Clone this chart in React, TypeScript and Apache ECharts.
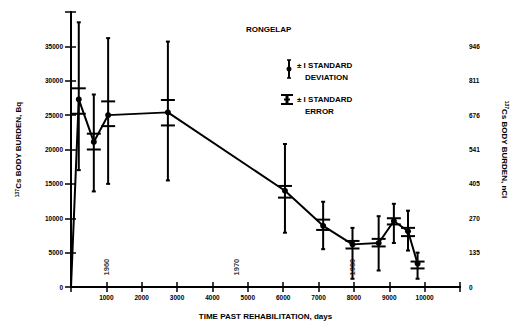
import React, { useEffect, useRef } from "react";
import * as echarts from "echarts";

// Time past rehabilitation (days)
const days = [0, 220, 645, 1050, 2740, 6050, 7130, 7960, 8700, 9130, 9530, 9800];
// Mean 137Cs body burden (Bq)
const meanBq = [0, 27300, 21100, 25000, 25400, 14000, 8900, 6200, 6400, 9600, 8100, 3400];
// ±1 standard deviation
const sdLow = [null, 17000, 13900, 15000, 15500, 7900, 5500, 1200, 2400, 6400, 5300, 1200];
const sdHigh = [null, 38500, 28000, 36200, 35700, 20800, 12400, 8600, 10300, 12100, 11100, 5000];
// ±1 standard error
const seLow = [null, 25200, 20000, 23400, 23500, 13000, 8300, 5600, 5900, 9100, 7400, 2700];
const seHigh = [null, 28900, 22300, 27000, 27200, 14700, 9800, 6700, 7000, 10000, 8600, 3700];

const yearLabels = ["1960", "1970", "1980"];
const yearDays = [1000, 4690, 7950];
const yearY = [2900, 2900, 2900];

const leftTicks = ["0", "5000", "10000", "15000", "20000", "25000", "30000", "35000"];
const rightTicks = ["0", "135", "270", "405", "541", "676", "811", "946"];

const FONT = "Liberation Sans";

export default function App() {
  const ref = useRef<HTMLDivElement>(null);
  useEffect(() => {
    if (!ref.current) return;
    const chart = echarts.init(ref.current, null, { renderer: "svg" });
    const errData = days
      .map((d, i) => [d, sdLow[i], sdHigh[i], seLow[i], seHigh[i]])
      .filter((r) => r[1] !== null);
    const axisLine = { show: true, lineStyle: { color: "#000", width: 2 } };
    const axisTick = { show: true, inside: true, length: 5, lineStyle: { color: "#000", width: 1.5 } };
    const tickLabel = { color: "#000", fontFamily: FONT, fontWeight: "bold" as const, fontSize: 6.5 };
    const nameStyle = {
      color: "#000",
      fontFamily: FONT,
      fontWeight: "bold" as const,
      fontSize: 8,
      rich: { sup: { fontSize: 5, verticalAlign: "top" as const, fontWeight: "bold" as const, fontFamily: FONT, padding: [0, 0, 4, 0] } },
    };
    chart.setOption({
      animation: false,
      backgroundColor: "#fff",
      grid: { left: 71, right: 45, top: 12, bottom: 33 },
      xAxis: [
        {
          type: "value",
          min: 0,
          max: 11000,
          interval: 1000,
          position: "bottom",
          axisLine,
          axisTick,
          splitLine: { show: false },
          axisLabel: {
            ...tickLabel,
            margin: 7,
            formatter: (v: number) => (v === 0 || v === 11000 ? "" : String(v)),
          },
          name: "TIME PAST REHABILITATION, days",
          nameLocation: "middle",
          nameGap: 25,
          nameTextStyle: nameStyle,
        },
        {
          type: "value",
          min: 0,
          max: 11000,
          interval: 1000,
          position: "top",
          axisLine,
          axisTick,
          splitLine: { show: false },
          axisLabel: { show: false },
        },
      ],
      yAxis: [
        {
          type: "value",
          min: 0,
          max: 40000,
          interval: 5000,
          position: "left",
          axisLine,
          axisTick,
          splitLine: { show: false },
          axisLabel: {
            ...tickLabel,
            margin: 8,
            formatter: (v: number) => leftTicks[Math.round(v / 5000)] ?? "",
          },
          name: "{sup|137}Cs BODY BURDEN, Bq",
          nameLocation: "middle",
          nameRotate: 90,
          nameGap: 48,
          nameTextStyle: nameStyle,
        },
        {
          type: "value",
          min: 0,
          max: 40000,
          interval: 5000,
          position: "right",
          axisLine,
          axisTick: { ...axisTick, length: 6 },
          splitLine: { show: false },
          axisLabel: {
            ...tickLabel,
            margin: 9,
            formatter: (v: number) => rightTicks[Math.round(v / 5000)] ?? "",
          },
          name: "{sup|137}Cs BODY BURDEN, nCi",
          nameLocation: "middle",
          nameRotate: -90,
          nameGap: 40,
          nameTextStyle: nameStyle,
        },
      ],
      graphic: [
        { type: "text", left: 246, top: 25, style: { text: "RONGELAP", fill: "#000", font: `bold 8px "${FONT}"` } },
        // SD legend symbol
        { type: "line", shape: { x1: 289, y1: 60, x2: 289, y2: 78 }, style: { stroke: "#000", lineWidth: 2 } },
        { type: "line", shape: { x1: 287, y1: 60, x2: 291, y2: 60 }, style: { stroke: "#000", lineWidth: 1.5 } },
        { type: "line", shape: { x1: 287, y1: 78, x2: 291, y2: 78 }, style: { stroke: "#000", lineWidth: 1.5 } },
        { type: "circle", shape: { cx: 289, cy: 69, r: 2.5 }, style: { fill: "#000" } },
        { type: "text", left: 297, top: 61, style: { text: "± I STANDARD", fill: "#000", font: `bold 8px "${FONT}"` } },
        { type: "text", left: 305, top: 73, style: { text: "DEVIATION", fill: "#000", font: `bold 8px "${FONT}"` } },
        // SE legend symbol
        { type: "line", shape: { x1: 281, y1: 95, x2: 293, y2: 95 }, style: { stroke: "#000", lineWidth: 2 } },
        { type: "line", shape: { x1: 281, y1: 104, x2: 293, y2: 104 }, style: { stroke: "#000", lineWidth: 2 } },
        { type: "line", shape: { x1: 287, y1: 95, x2: 287, y2: 104 }, style: { stroke: "#000", lineWidth: 3 } },
        { type: "line", shape: { x1: 284, y1: 99.5, x2: 290, y2: 99.5 }, style: { stroke: "#000", lineWidth: 2 } },
        { type: "text", left: 297, top: 95, style: { text: "± I STANDARD", fill: "#000", font: `bold 8px "${FONT}"` } },
        { type: "text", left: 305, top: 107, style: { text: "ERROR", fill: "#000", font: `bold 8px "${FONT}"` } },
      ],
      series: [
        {
          type: "custom",
          xAxisIndex: 0,
          yAxisIndex: 0,
          data: errData,
          renderItem: (params: any, api: any) => {
            const x = api.value(0);
            const pLow = api.coord([x, api.value(1)]);
            const pHigh = api.coord([x, api.value(2)]);
            const eLow = api.coord([x, api.value(3)]);
            const eHigh = api.coord([x, api.value(4)]);
            const st = { stroke: "#000", lineWidth: 2 };
            const cw = 2;
            const ew = 7;
            return {
              type: "group",
              children: [
                { type: "line", shape: { x1: pLow[0], y1: pLow[1], x2: pHigh[0], y2: pHigh[1] }, style: st },
                { type: "line", shape: { x1: pLow[0] - cw, y1: pLow[1], x2: pLow[0] + cw, y2: pLow[1] }, style: st },
                { type: "line", shape: { x1: pHigh[0] - cw, y1: pHigh[1], x2: pHigh[0] + cw, y2: pHigh[1] }, style: st },
                { type: "line", shape: { x1: eLow[0] - ew, y1: eLow[1], x2: eLow[0] + ew, y2: eLow[1] }, style: st },
                { type: "line", shape: { x1: eHigh[0] - ew, y1: eHigh[1], x2: eHigh[0] + ew, y2: eHigh[1] }, style: st },
              ],
            };
          },
          z: 3,
        },
        {
          type: "line",
          xAxisIndex: 0,
          yAxisIndex: 0,
          data: days.map((d, i) => [d, meanBq[i]]),
          symbol: "circle",
          symbolSize: (v: number[]) => (v[0] === 0 ? 0 : 6),
          lineStyle: { color: "#000", width: 2 },
          itemStyle: { color: "#000" },
          z: 4,
        },
        {
          type: "scatter",
          xAxisIndex: 0,
          yAxisIndex: 0,
          symbolSize: 0,
          silent: true,
          data: yearLabels.map((n, i) => ({ name: n, value: [yearDays[i], yearY[i]] })),
          label: {
            show: true,
            position: "inside",
            rotate: 90,
            formatter: "{b}",
            color: "#000",
            fontFamily: FONT,
            fontWeight: "bold",
            fontSize: 7.5,
          },
          z: 5,
        },
      ],
    });
    return () => chart.dispose();
  }, []);
  return <div ref={ref} style={{ width: 517, height: 325, position: "absolute", left: 0, top: 0 }} />;
}
